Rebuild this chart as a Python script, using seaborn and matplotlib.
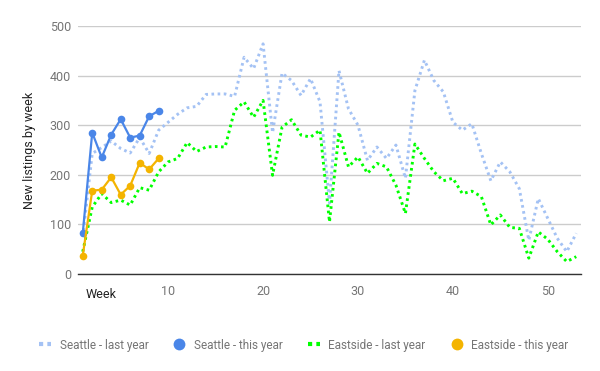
import matplotlib
matplotlib.use("Agg")
import matplotlib.pyplot as plt
from matplotlib.lines import Line2D
import seaborn as sns
import pandas as pd

weeks_last = list(range(1, 54))
seattle_last = [75, 243, 255, 268, 253, 244, 275, 243, 290, 306, 322, 335, 338, 362, 363, 363,
                358, 437, 414, 464, 285, 405, 390, 360, 394, 347, 143, 410, 333, 300, 229, 256,
                233, 260, 193, 370, 431, 390, 367, 306, 290, 303, 243, 188, 226, 206, 172, 68,
                152, 112, 72, 45, 82]
eastside_last = [45, 135, 162, 144, 149, 139, 174, 169, 206, 226, 233, 265, 247, 256, 257, 256,
                 330, 347, 316, 350, 199, 296, 311, 280, 276, 290, 105, 286, 216, 236, 203, 223,
                 216, 179, 122, 262, 233, 206, 188, 193, 162, 167, 156, 99, 119, 94, 92, 32,
                 85, 70, 45, 25, 35]
weeks_this = list(range(1, 10))
seattle_this = [82, 285, 235, 281, 312, 275, 279, 318, 329]
eastside_this = [37, 168, 170, 195, 160, 178, 224, 211, 233]

labels = ["Seattle - last year", "Seattle - this year", "Eastside - last year", "Eastside - this year"]
colors = {"Seattle - last year": "#a4c2f4", "Seattle - this year": "#4a86e8",
          "Eastside - last year": "#00ff00", "Eastside - this year": "#f4b400"}

sns.set_style("white")
plt.rcParams["font.family"] = ["Roboto", "DejaVu Sans"]

fig = plt.figure(figsize=(6, 3.71), dpi=100)
ax = fig.add_axes([78 / 600, 1 - 274 / 371, 503 / 600, 248 / 371])

df_last = pd.DataFrame({"week": weeks_last, "Seattle - last year": seattle_last,
                        "Eastside - last year": eastside_last})
df_this = pd.DataFrame({"week": weeks_this, "Seattle - this year": seattle_this,
                        "Eastside - this year": eastside_this})

dot = (0, (0.9, 1.2))
for name in ["Seattle - last year", "Eastside - last year"]:
    sns.lineplot(data=df_last, x="week", y=name, ax=ax, color=colors[name],
                 linewidth=2.1, linestyle=dot, dash_capstyle="butt", legend=False)
for name in ["Seattle - this year", "Eastside - this year"]:
    sns.lineplot(data=df_this, x="week", y=name, ax=ax, color=colors[name],
                 linewidth=1.6, marker="o", markersize=5.5, markeredgewidth=0, legend=False)

ax.set_xlim(0.5, 53.5)
ax.set_ylim(0, 500)
ax.set_yticks([0, 100, 200, 300, 400, 500])
ax.set_xticks([10, 20, 30, 40, 50])
ax.grid(axis="y", color="#cccccc", linewidth=1)
ax.grid(axis="x", visible=False)
for s in ["top", "right", "left"]:
    ax.spines[s].set_visible(False)
ax.spines["bottom"].set_color("#333333")
ax.spines["bottom"].set_linewidth(1)
ax.set_axisbelow(True)
ax.tick_params(axis="both", length=0, labelsize=9, colors="#757575")
ax.tick_params(axis="y", pad=5)
ax.tick_params(axis="x", pad=8)
ax.set_xlabel("")
ax.set_ylabel("New listings by week", fontsize=9, color="#222222", labelpad=10)
fig.text(101 / 600, 1 - 294 / 371, "Week", ha="center", va="center", fontsize=9, color="#222222")

handles = []
for name in labels:
    if "last" in name:
        handles.append(Line2D([], [], color=colors[name], linewidth=3, linestyle=(0, (1, 1)),
                              dash_capstyle="butt"))
    else:
        handles.append(Line2D([], [], color=colors[name], linestyle="none", marker="o",
                              markersize=8.5, markeredgewidth=0))
fig.legend(handles, labels, loc="center", bbox_to_anchor=(0.506, 1 - 345 / 371), ncol=4,
           frameon=False, fontsize=8.5, labelcolor="#757575", handlelength=1.06,
           handletextpad=0.7, columnspacing=2.1)

fig.savefig("out.png", dpi=100)
